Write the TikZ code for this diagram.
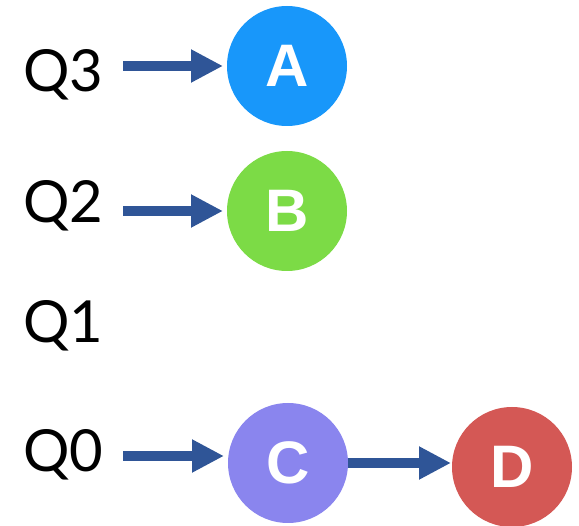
\documentclass[tikz,border=0pt]{standalone}
\usepackage{fontspec}
\setmainfont{Lato}
\newfontfamily\letterfont{Liberation Sans}
\usetikzlibrary{arrows.meta}

\definecolor{itemA}{HTML}{1897FA}
\definecolor{itemB}{HTML}{7CDB46}
\definecolor{itemC}{HTML}{8A85EE}
\definecolor{itemD}{HTML}{D45855}
\definecolor{linkblue}{HTML}{2F5597}

\begin{document}
\begin{tikzpicture}[x=1pt,y=-1pt,
  item/.style={circle, minimum size=120pt, inner sep=0pt, outer sep=0pt, text=white,
    font=\letterfont\bfseries\fontsize{60}{60}\selectfont},
  queue/.style={anchor=base west, inner sep=0pt, font=\fontsize{58}{58}\selectfont},
  link/.style={draw=linkblue, line width=10pt, -{Triangle[length=32pt,width=31pt]}, shorten >=4pt}]

\useasboundingbox (0,0) rectangle (579,526);

% Queue labels
\node[queue] (q3) at (23,92) {Q3};
\node[queue] (q2) at (23,223) {Q2};
\node[queue] (q1) at (23,343) {Q1};
\node[queue] (q0) at (23,472) {Q0};

% Items
\node[item, fill=itemA] (A) at (287,66) {A};
\node[item, fill=itemB] (B) at (287,211) {B};
\node[item, fill=itemC] (C) at (288,463) {C};
\node[item, fill=itemD] (D) at (512,467) {D};

% Links from queues to items
\draw[link] ([xshift=20pt]q3.east |- A.west) -- (A.west);
\draw[link] ([xshift=20pt]q2.east |- B.west) -- (B.west);
\draw[link] ([xshift=20pt,yshift=7pt]q0.east |- C.west) -- ([yshift=7pt]C.west);

% C followed by D
\draw[link, shorten >=1pt] (C.east) -- (C.east -| D.west);

\end{tikzpicture}
\end{document}
